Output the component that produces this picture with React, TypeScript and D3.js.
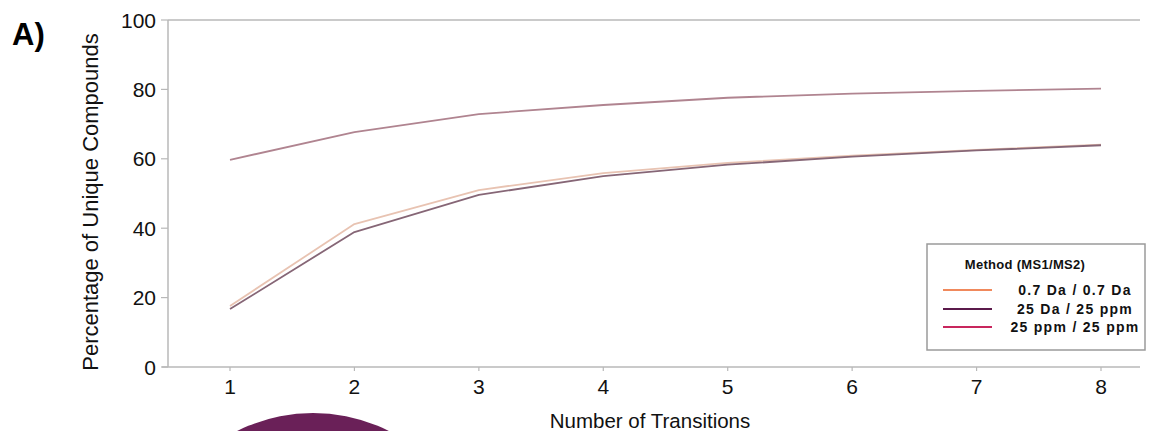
import React from "react";
import * as d3 from "d3";

// Number of transitions on the x axis
const transitions = [1, 2, 3, 4, 5, 6, 7, 8];

// Percentage of unique compounds per method (MS1/MS2 tolerance)
const da07 = [17.6, 41.2, 51.0, 55.9, 58.8, 60.9, 62.6, 64.1];
const da25ppm = [16.7, 38.9, 49.6, 55.0, 58.3, 60.6, 62.4, 63.9];
const ppm25 = [59.7, 67.7, 72.9, 75.5, 77.6, 78.8, 79.6, 80.2];

const yTicks = [0, 20, 40, 60, 80, 100];

const legendLabels = ["0.7 Da / 0.7 Da", "25 Da / 25 ppm", "25 ppm / 25 ppm"];
const legendColors = ["#f0895c", "#5b1a4b", "#c8265d"];
// Plotted strokes are rendered softer than the legend swatches
const lineColors = ["#e8c3b2", "#866676", "#b08490"];

const W = 1153;
const H = 431;
const FONT = "'Liberation Sans', Arial, sans-serif";

export default function App() {
  const x = d3.scaleLinear().domain([1, 8]).range([230, 1101]);
  const y = d3.scaleLinear().domain([0, 100]).range([367, 20]);
  const line = d3
    .line<number>()
    .x((_, i) => x(transitions[i]))
    .y((d) => y(d));

  const series = [da07, da25ppm, ppm25];
  const axisColor = "#b8b8b8";
  const legendX = 927;
  const legendY = 244;
  const itemY = [290, 309, 327];

  return (
    <div style={{ position: "fixed", left: 0, top: 0 }}>
      <svg width={W} height={H} style={{ display: "block", background: "#fff" }}>
        {/* decorative circle at the bottom edge */}
        <circle cx={313} cy={582} r={169} fill="#6a2058" />

        {/* panel label */}
        <text x={12} y={45} fontFamily={FONT} fontWeight="bold" fontSize={31} fill="#000">
          A)
        </text>

        {/* frame lines */}
        <line x1={168} x2={1140} y1={y(100)} y2={y(100)} stroke={axisColor} strokeWidth={1.5} />
        <line x1={168} x2={168} y1={y(100)} y2={y(0)} stroke={axisColor} strokeWidth={1.5} />
        <line x1={162} x2={1140} y1={y(0)} y2={y(0)} stroke={axisColor} strokeWidth={1.5} />

        {/* y ticks */}
        {yTicks.map((t) => (
          <g key={t}>
            <line x1={161} x2={168} y1={y(t)} y2={y(t)} stroke={axisColor} strokeWidth={1.2} />
            <text
              x={156}
              y={y(t)}
              dy="0.36em"
              textAnchor="end"
              fontFamily={FONT}
              fontSize={21}
              fill="#111"
            >
              {t}
            </text>
          </g>
        ))}

        {/* x ticks */}
        {transitions.map((t) => (
          <g key={t}>
            <line x1={x(t)} x2={x(t)} y1={y(0)} y2={y(0) + 4} stroke={axisColor} strokeWidth={1.2} />
            <text
              x={x(t)}
              y={394}
              textAnchor="middle"
              fontFamily={FONT}
              fontSize={21}
              fill="#111"
            >
              {t}
            </text>
          </g>
        ))}

        {/* axis titles */}
        <text x={650} y={428} textAnchor="middle" fontFamily={FONT} fontSize={20.5} fill="#111">
          Number of Transitions
        </text>
        <text
          transform={`translate(98, 202) rotate(-90)`}
          textAnchor="middle"
          fontFamily={FONT}
          fontSize={22}
          fill="#111"
        >
          Percentage of Unique Compounds
        </text>

        {/* series lines */}
        {series.map((s, i) => (
          <path
            key={i}
            d={line(s) ?? ""}
            fill="none"
            stroke={lineColors[i]}
            strokeWidth={1.8}
            strokeLinejoin="round"
          />
        ))}

        {/* legend */}
        <rect
          x={legendX}
          y={legendY}
          width={218}
          height={106}
          fill="#fff"
          stroke="#9a9a9a"
          strokeWidth={1.5}
        />
        <text
          x={1025}
          y={269}
          textAnchor="middle"
          fontFamily={FONT}
          fontWeight="bold"
          fontSize={13}
          letterSpacing={0.3}
          fill="#111"
        >
          Method (MS1/MS2)
        </text>
        {legendLabels.map((lab, i) => {
          const ly = itemY[i];
          return (
            <g key={lab}>
              <line x1={943} x2={992} y1={ly} y2={ly} stroke={legendColors[i]} strokeWidth={2.2} />
              <text
                x={1075}
                y={ly}
                dy="0.36em"
                textAnchor="middle"
                fontFamily={FONT}
                fontWeight="bold"
                fontSize={14}
                letterSpacing={1.3}
                fill="#111"
              >
                {lab}
              </text>
            </g>
          );
        })}
      </svg>
    </div>
  );
}
